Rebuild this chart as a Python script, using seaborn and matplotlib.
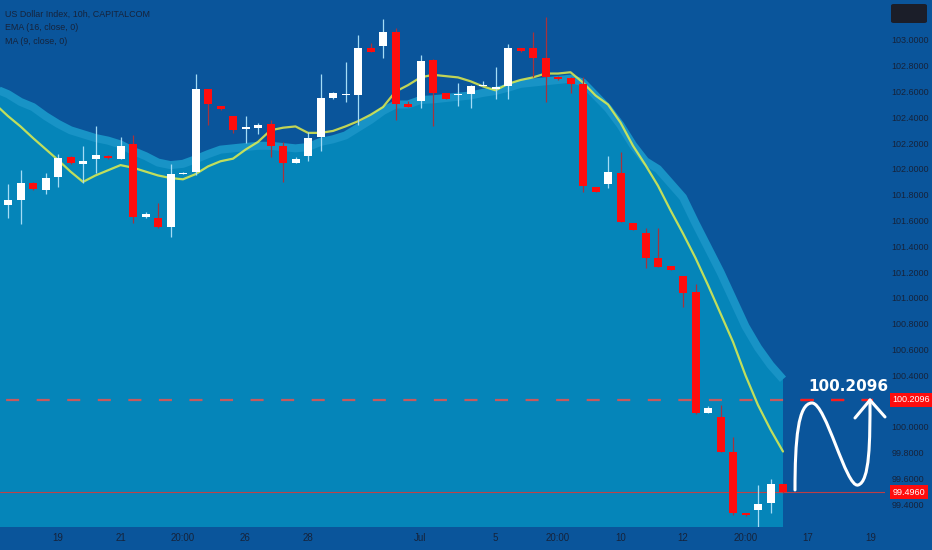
import numpy as np
import pandas as pd
import matplotlib
matplotlib.use("Agg")
import matplotlib.pyplot as plt
from matplotlib.patches import Rectangle, FancyBboxPatch, PathPatch
from matplotlib.path import Path
import seaborn as sns

# 10h candles (bar 0 = first visible bar)
opens = [101.72, 101.76, 101.89, 101.84, 101.94, 102.09, 102.04, 102.08, 102.10, 102.08,
         102.19, 101.63, 101.62, 101.55, 101.96, 101.98, 102.62, 102.49, 102.41, 102.31,
         102.32, 102.35, 102.18, 102.05, 102.10, 102.25, 102.55, 102.57, 102.57, 102.94,
         102.95, 103.06, 102.50, 102.53, 102.845, 102.59, 102.57, 102.58, 102.64, 102.62,
         102.64, 102.94, 102.94, 102.86, 102.71, 102.705, 102.66, 101.86, 101.88, 101.97,
         101.58, 101.50, 101.31, 101.25, 101.17, 101.05, 100.11, 100.08, 99.81, 99.33,
         99.36, 99.41, 99.56]
highs = [101.88, 101.99, 101.90, 101.97, 102.12, 102.10, 102.18, 102.33, 102.11, 102.25,
         102.26, 101.67, 101.74, 102.04, 101.98, 102.74, 102.62, 102.49, 102.41, 102.41,
         102.36, 102.38, 102.21, 102.09, 102.29, 102.74, 102.60, 102.83, 103.04, 102.98,
         103.16, 103.09, 102.53, 102.88, 102.85, 102.59, 102.67, 102.65, 102.68, 102.79,
         102.97, 102.94, 103.06, 103.18, 102.72, 102.71, 102.71, 101.86, 102.10, 102.13,
         101.58, 101.54, 101.54, 101.25, 101.17, 101.11, 100.16, 100.17, 99.92, 99.33,
         99.55, 99.60, 99.56]
lows = [101.62, 101.57, 101.84, 101.81, 101.86, 102.04, 101.89, 101.97, 102.08, 102.08,
        101.58, 101.62, 101.54, 101.47, 101.96, 101.95, 102.34, 102.46, 102.28, 102.20,
        102.27, 102.09, 101.90, 102.05, 102.06, 102.14, 102.54, 102.52, 102.34, 102.91,
        102.86, 102.38, 102.48, 102.47, 102.33, 102.54, 102.49, 102.47, 102.64, 102.54,
        102.54, 102.91, 102.71, 102.52, 102.69, 102.59, 101.82, 101.82, 101.85, 101.59,
        101.53, 101.23, 101.24, 101.22, 100.93, 100.10, 100.11, 99.81, 99.32, 99.31,
        99.22, 99.33, 99.49]
closes = [101.76, 101.89, 101.845, 101.93, 102.085, 102.05, 102.06, 102.11, 102.085, 102.18,
          101.63, 101.65, 101.55, 101.96, 101.97, 102.62, 102.50, 102.465, 102.30, 102.32,
          102.34, 102.18, 102.05, 102.08, 102.24, 102.55, 102.59, 102.58, 102.94, 102.91,
          103.06, 102.50, 102.48, 102.84, 102.59, 102.54, 102.58, 102.64, 102.645, 102.63,
          102.94, 102.915, 102.86, 102.71, 102.70, 102.66, 101.87, 101.82, 101.98, 101.59,
          101.53, 101.31, 101.24, 101.22, 101.04, 100.11, 100.15, 99.81, 99.33, 99.32,
          99.40, 99.56, 99.496]

# indicators, starting one bar before the first visible candle
ema16 = [102.50, 102.41, 102.33, 102.24, 102.155, 102.07, 101.98, 101.90, 101.95, 101.99,
         102.03, 102.01, 101.98, 101.95, 101.93, 101.92, 101.96, 102.02, 102.06, 102.08,
         102.15, 102.21, 102.30, 102.32, 102.33, 102.28, 102.28, 102.295, 102.33, 102.37,
         102.42, 102.48, 102.60, 102.65, 102.71, 102.73, 102.72, 102.71, 102.68, 102.64,
         102.61, 102.66, 102.69, 102.71, 102.74, 102.74, 102.75, 102.67, 102.57, 102.50,
         102.36, 102.18, 102.03, 101.87, 101.68, 101.50, 101.31, 101.10, 100.88, 100.66,
         100.40, 100.17, 99.98, 99.81]
ma9 = [102.62, 102.58, 102.52, 102.48, 102.41, 102.35, 102.30, 102.27, 102.24, 102.22,
       102.19, 102.14, 102.10, 102.05, 102.03, 102.04, 102.075, 102.115, 102.15, 102.16,
       102.17, 102.18, 102.18, 102.17, 102.16, 102.17, 102.21, 102.23, 102.26, 102.32,
       102.38, 102.45, 102.50, 102.50, 102.535, 102.54, 102.55, 102.56, 102.57, 102.59,
       102.605, 102.63, 102.66, 102.67, 102.68, 102.69, 102.70, 102.67, 102.57, 102.47,
       102.34, 102.185, 102.06, 102.00, 101.89, 101.78, 101.58, 101.39, 101.20, 100.99,
       100.78, 100.615, 100.48, 100.37]

tick_pos = [4, 9, 14, 19, 24, 33, 39, 44, 49, 54, 59, 64, 69]
tick_labels = ["19", "21", "20:00", "26", "28", "Jul", "5", "20:00", "10", "12", "20:00", "17", "19"]
price_ticks = [99.4, 99.6, 99.8, 100.0, 100.2, 100.4, 100.6, 100.8, 101.0,
               101.2, 101.4, 101.6, 101.8, 102.0, 102.2, 102.4, 102.6, 102.8, 103.0]

target_level = 100.2096
last_close = 99.496

# hand drawn projection (bar, price): start, then 3 cubic bezier segments
curve_x = [62.96, 62.96, 63.2, 64.32, 65.44, 67.04, 68.0, 68.96, 68.96, 68.96]
curve_y = [99.512, 99.899, 100.186, 100.186, 100.186, 99.527, 99.55, 99.574, 99.899, 100.209]
head_x = [67.76, 68.96, 70.16]
head_y = [100.07, 100.209, 100.078]

BG = "#0a559b"
FILL = "#0585b9"
BAND = "#1893c6"
TXT = "#16233b"
RED = "#ff0d0d"

sns.set_theme(style="dark", rc={"axes.facecolor": BG, "figure.facecolor": BG,
                                "lines.scale_dashes": False})
plt.rcParams["font.family"] = ["Liberation Sans", "DejaVu Sans"]

df = pd.DataFrame({"open": opens, "high": highs, "low": lows, "close": closes})
df["bar"] = np.arange(len(df))
ind = pd.DataFrame({"bar": np.arange(-1, len(df)), "ema": ema16, "ma": ma9})

fig = plt.figure(figsize=(9.32, 5.5), dpi=100)
ax = fig.add_axes([0, 23 / 550, 885 / 932, 527 / 550])
ax.set_xlim(-0.64, 70.16)
ax.set_ylim(99.2248, 103.31)

# MA area + its thick edge
ax.fill_between(ind.bar, ind.ma, 98.0, color=FILL, lw=0, zorder=1)
sns.lineplot(data=ind, x="bar", y="ma", ax=ax, color=BAND, lw=5.8, zorder=1.2,
             solid_capstyle="butt")

# target level, dashed
last = df.bar.iloc[-1]
ls = (17.6, (9.4, 12.6))
ax.plot([-0.64, 69.2], [target_level] * 2, color="#c65a5e", lw=1.6, ls=ls, zorder=1.5)
bright, = ax.plot([-0.64, 69.2], [target_level] * 2, color="#ff1a1a", lw=1.6, ls=ls, zorder=4)
bright.set_clip_path(Rectangle((last, 98), 20, 6, transform=ax.transData))
ax.axhline(last_close, color="#d23c3c", lw=0.8, alpha=0.9, zorder=1.5)

# EMA
sns.lineplot(data=ind, x="bar", y="ema", ax=ax, color="#f0f545", lw=1.6, alpha=0.8, zorder=2)

# candles
up = df.close >= df.open
body_lo = df[["open", "close"]].min(axis=1)
body_h = (df.close - df.open).abs().clip(lower=0.012)
ax.vlines(df.bar[up], df.low[up], df.high[up], color="#a5dcf5", lw=0.9, zorder=3)
ax.vlines(df.bar[~up], df.low[~up], df.high[~up], color="#a8323c", lw=0.9, zorder=3)
ax.bar(df.bar[up], body_h[up], bottom=body_lo[up], width=0.64, color="white", lw=0, zorder=3.1)
ax.bar(df.bar[~up], body_h[~up], bottom=body_lo[~up], width=0.64, color=RED, lw=0, zorder=3.1)

# projection drawing
codes = [Path.MOVETO] + [Path.CURVE4] * 9
curve = Path(np.column_stack([curve_x, curve_y]), codes)
ax.add_patch(PathPatch(curve, fc="none", ec="white", lw=2.2, capstyle="round",
                       zorder=6, clip_on=False))
ax.plot(head_x, head_y, color="white", lw=2.2, solid_joinstyle="round",
        solid_capstyle="round", zorder=6, clip_on=False)
ax.annotate(f"{target_level:.4f}", (67.2, target_level), xytext=(0, 4),
            textcoords="offset points", ha="center", va="bottom", color="white",
            fontsize=11, fontweight="bold", family="DejaVu Sans", zorder=7)

# axes styling
ax.set_xlabel("")
ax.set_ylabel("")
ax.grid(False)
for s in ax.spines.values():
    s.set_visible(False)
ax.set_xticks(tick_pos)
ax.set_xticklabels(tick_labels)
ax.yaxis.tick_right()
ax.set_yticks(price_ticks)
# the 100.2 label sits under the target price tag
ax.set_yticklabels(["" if abs(v - target_level) < 0.05 else f"{v:.4f}" for v in price_ticks])
ax.tick_params(axis="x", length=0, pad=4.5, labelsize=7, labelcolor=TXT)
ax.tick_params(axis="y", length=0, pad=4.5, labelsize=6.5, labelcolor=TXT)

trans = ax.get_yaxis_transform()
for lvl in [target_level, last_close]:
    ax.text(1.0085, lvl, f"{lvl:.4f}", transform=trans, color="white", fontsize=6.5,
            va="center", ha="left", clip_on=False, zorder=10,
            bbox=dict(boxstyle="square,pad=0.3", fc=RED, ec="none"))

# legend text, top left
fig.text(5 / 932, 1 - 14 / 550, "US Dollar Index, 10h, CAPITALCOM", color=TXT, fontsize=6.4, va="center")
fig.text(5 / 932, 1 - 28 / 550, "EMA (16, close, 0)", color=TXT, fontsize=6.4, va="center")
fig.text(5 / 932, 1 - 42 / 550, "MA (9, close, 0)", color=TXT, fontsize=6.4, va="center")

fig.patches.append(FancyBboxPatch((891 / 932, 1 - 23 / 550), 36 / 932, 19 / 550,
                                  boxstyle="round,pad=0,rounding_size=0.003",
                                  transform=fig.transFigure, fc="#1b1e29", ec="none"))

fig.savefig("out.png", dpi=100, facecolor=BG)
